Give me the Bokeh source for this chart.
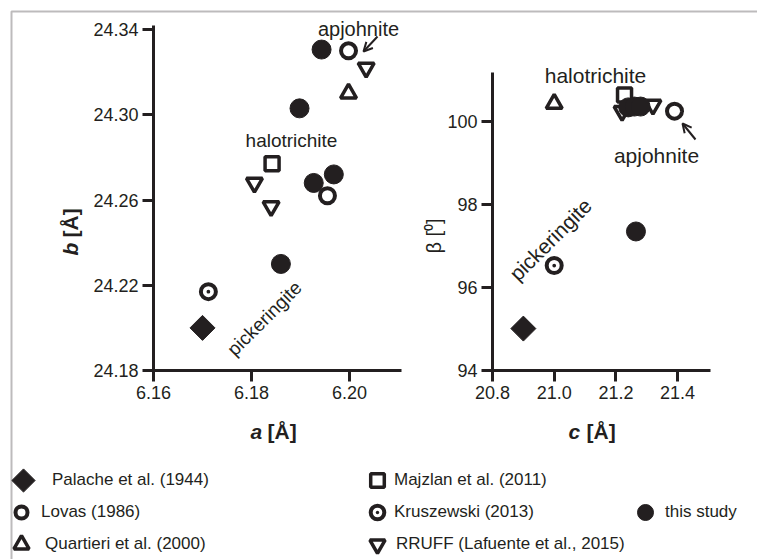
import math
from bokeh.plotting import figure
from bokeh.models import (Label, Arrow, OpenHead, Legend, LegendItem, Range1d,
                          LinearAxis, FixedTicker, BoxAnnotation, CustomJS)
from bokeh.embed import file_html
from bokeh.resources import INLINE

INK = "#231f20"
FONT = "Liberation Sans"
W, H = 757, 559

# ---- lattice parameters, a / b panel ----
palache_a = [6.170];  palache_b = [24.200]
lovas_a = [6.1998, 6.1955];  lovas_b = [24.330, 24.262]
quartieri_a = [6.1998];  quartieri_b = [24.310]
majzlan_a = [6.1842];  majzlan_b = [24.277]
kruszewski_a = [6.1712];  kruszewski_b = [24.217]
rruff_a = [6.2034, 6.1806, 6.1840];  rruff_b = [24.322, 24.268, 24.257]
study_a = [6.1943, 6.1898, 6.1927, 6.1968, 6.1860]
study_b = [24.3306, 24.3030, 24.2680, 24.2720, 24.2300]

# ---- lattice parameters, c / beta panel ----
palache_c = [20.90];  palache_beta = [95.01]
lovas_c = [21.39];  lovas_beta = [100.25]
quartieri_c = [21.00];  quartieri_beta = [100.43]
majzlan_c = [21.228];  majzlan_beta = [100.64]
kruszewski_c = [21.00];  kruszewski_beta = [96.53]
rruff_c = [21.22, 21.32];  rruff_beta = [100.25, 100.40]
study_c = [21.24, 21.26, 21.28, 21.265];  study_beta = [100.34, 100.36, 100.36, 97.35]

# ---- axis ticks ----
a_ticks = [6.16, 6.18, 6.20];  a_labels = ["6.16", "6.18", "6.20"]
b_ticks = [24.18, 24.22, 24.26, 24.30, 24.34]
b_labels = ["24.18", "24.22", "24.26", "24.30", "24.34"]
c_ticks = [20.8, 21.0, 21.2, 21.4];  c_labels = ["20.8", "21.0", "21.2", "21.4"]
beta_ticks = [94, 96, 98, 100];  beta_labels = ["94", "96", "98", "100"]

legend_labels = ["Palache et al. (1944)", "Lovas (1986)", "Quartieri et al. (2000)",
                 "Majzlan et al. (2011)", "Kruszewski (2013)",
                 "RRUFF (Lafuente et al., 2015)", "this study"]

# square diamond marker (Bokeh's built-in diamond is narrower than it is tall)
DIAMOND = {"@diamond": CustomJS(code="""
export default (args, obj, {ctx, i, r, visuals}) => {
  ctx.beginPath()
  ctx.moveTo(0, -r)
  ctx.lineTo(r, 0)
  ctx.lineTo(0, r)
  ctx.lineTo(-r, 0)
  ctx.closePath()
  visuals.fill.apply(ctx, i)
  visuals.line.apply(ctx, i)
}
""")}


# ---- page geometry: both panels share one canvas ----
# left panel: a = 6.16 at px 153, b = 24.18 at px 370
def lx(px):
    return 6.16 + (px - 153) / 4900.0


def ly(py):
    return 24.18 + (370 - py) / 2131.25


# right panel: c = 20.8 at px 492, beta = 94 at px 370
def rx(px):
    return 20.8 + (px - 492) / 308.5


def ry(py):
    return 94 + (370 - py) / 41.5


p = figure(width=W, height=H, x_range=Range1d(lx(0), lx(W)),
           y_range=Range1d(ly(H), ly(0)), x_axis_type=None, y_axis_type=None,
           toolbar_location=None, output_backend="svg", min_border=0)
p.extra_x_ranges = {"c": Range1d(rx(0), rx(W))}
p.extra_y_ranges = {"beta": Range1d(ry(H), ry(0))}
p.xgrid.visible = False
p.ygrid.visible = False
p.outline_line_color = None

# outer frame (top and left edges only)
p.add_layout(BoxAnnotation(left=lx(11), top=ly(11), right=lx(W + 20), bottom=ly(H + 20),
                           fill_alpha=0, line_color=INK, line_width=2))


def make_axis(ticks, labels, side, **kw):
    ax = LinearAxis(ticker=FixedTicker(ticks=ticks),
                    major_label_overrides={t: s for t, s in zip(ticks, labels)}, **kw)
    ax.axis_line_width = 3
    ax.axis_line_color = INK
    ax.major_tick_line_width = 3
    ax.major_tick_line_color = INK
    ax.major_tick_out = 11
    ax.major_tick_in = 0
    ax.minor_tick_line_color = None
    ax.major_label_text_font = FONT
    ax.major_label_text_font_size = "18px"
    ax.major_label_text_color = INK
    ax.major_label_standoff = 4
    p.add_layout(ax, side)


make_axis(a_ticks, a_labels, "below", fixed_location=24.18,
          bounds=(lx(151.5), lx(401)))
make_axis(b_ticks, b_labels, "left", fixed_location=6.16,
          bounds=(ly(371.5), ly(25)))
make_axis(c_ticks, c_labels, "below", fixed_location=94, x_range_name="c",
          y_range_name="beta", bounds=(rx(490.5), rx(710)))
make_axis(beta_ticks, beta_labels, "left", fixed_location=20.8, x_range_name="c",
          y_range_name="beta", bounds=(ry(371.5), ry(72)))


def draw_series(d, **rng):
    """Draw every reference series for one panel; d maps name -> (xs, ys)."""
    c = dict(line_color=INK, **rng)
    out = {}
    out["palache"] = p.scatter(*d["palache"], marker="@diamond", defs=DIAMOND,
                               size=25, fill_color=INK, line_width=1, **c)
    out["majzlan"] = p.scatter(*d["majzlan"], marker="square", size=14,
                               fill_color="white", line_width=3.5, **c)
    out["quartieri"] = p.scatter(*d["quartieri"], marker="triangle", size=16,
                                 fill_color="white", line_width=3.5, **c)
    out["rruff"] = p.scatter(*d["rruff"], marker="inverted_triangle", size=16,
                             fill_color="white", line_width=3.5, **c)
    out["study"] = p.scatter(*d["study"], marker="circle", size=19, fill_color=INK,
                             line_width=1, **c)
    out["lovas"] = p.scatter(*d["lovas"], marker="circle", size=15,
                             fill_color="white", line_width=4, **c)
    out["kruszewski"] = p.scatter(*d["kruszewski"], marker="circle_dot", size=15,
                                  fill_color="white", line_width=4, **c)
    return out


left = draw_series({
    "palache": (palache_a, palache_b), "lovas": (lovas_a, lovas_b),
    "quartieri": (quartieri_a, quartieri_b), "majzlan": (majzlan_a, majzlan_b),
    "kruszewski": (kruszewski_a, kruszewski_b), "rruff": (rruff_a, rruff_b),
    "study": (study_a, study_b)})
draw_series({
    "palache": (palache_c, palache_beta), "lovas": (lovas_c, lovas_beta),
    "quartieri": (quartieri_c, quartieri_beta), "majzlan": (majzlan_c, majzlan_beta),
    "kruszewski": (kruszewski_c, kruszewski_beta), "rruff": (rruff_c, rruff_beta),
    "study": (study_c, study_beta)}, x_range_name="c", y_range_name="beta")


def label(x, y, text, size, style="normal", align="center", angle=0.0, **rng):
    p.add_layout(Label(x=x, y=y, text=text, text_font=FONT, text_font_size=size,
                       text_font_style=style, text_color=INK, text_align=align,
                       text_baseline="middle", angle=angle, **rng))


def arrow(x0, y0, x1, y1, **rng):
    p.add_layout(Arrow(end=OpenHead(size=9, line_width=2, line_color=INK),
                       x_start=x0, y_start=y0, x_end=x1, y_end=y1,
                       line_width=2, line_color=INK, **rng))


# a / b panel annotations
label(lx(358), ly(28), "apjohnite", "20px")
label(lx(291), ly(140), "halotrichite", "19px")
label(lx(264), ly(318), "pickeringite", "19px", angle=math.pi / 4)
arrow(lx(377), ly(36), lx(363), ly(51))
label(lx(250), ly(431), "a", "21px", "bold italic", align="left")
label(lx(267), ly(431), "[Å]", "21px", "bold", align="left")
label(lx(70), ly(255), "b", "21px", "bold italic", align="left", angle=math.pi / 2)
label(lx(70), ly(237), "[Å]", "21px", "bold", align="left", angle=math.pi / 2)

# c / beta panel annotations
R = dict(x_range_name="c", y_range_name="beta")
label(rx(595), ry(75), "halotrichite", "21px", **R)
label(rx(656), ry(155), "apjohnite", "21px", **R)
label(rx(550), ry(239), "pickeringite", "21px", angle=math.pi / 4, **R)
arrow(rx(695), ry(139), rx(682), ry(123), **R)
label(rx(568), ry(431), "c", "21px", "bold italic", align="left", **R)
label(rx(586), ry(431), "[Å]", "21px", "bold", align="left", **R)
label(rx(433), ry(253), "β [⁰]", "20px", align="left", angle=math.pi / 2, **R)


# key: one single-entry legend per source, laid out in three columns
def key(renderer, text, cx, cy, box, gap):
    leg = Legend(items=[LegendItem(label=text, renderers=[renderer])],
                 location=(cx - box / 2, H - cy - box / 2),
                 glyph_width=box, glyph_height=box, label_height=box,
                 label_standoff=gap, padding=0, margin=0, spacing=0,
                 border_line_color=None, background_fill_alpha=0,
                 label_text_font=FONT, label_text_font_size="17px",
                 label_text_color=INK, label_text_baseline="middle")
    p.add_layout(leg, "center")


key(left["palache"], legend_labels[0], 23, 480, 58, 0)
key(left["lovas"], legend_labels[1], 21, 512, 30, 5)
key(left["quartieri"], legend_labels[2], 21, 544, 38, 5)
key(left["majzlan"], legend_labels[3], 377, 480, 34, 0)
key(left["kruszewski"], legend_labels[4], 377, 512, 34, 0)
key(left["rruff"], legend_labels[5], 377, 544, 38, 0)
key(left["study"], legend_labels[6], 645, 512, 40, 0)

open("out.html", "w").write(file_html(p, INLINE))
